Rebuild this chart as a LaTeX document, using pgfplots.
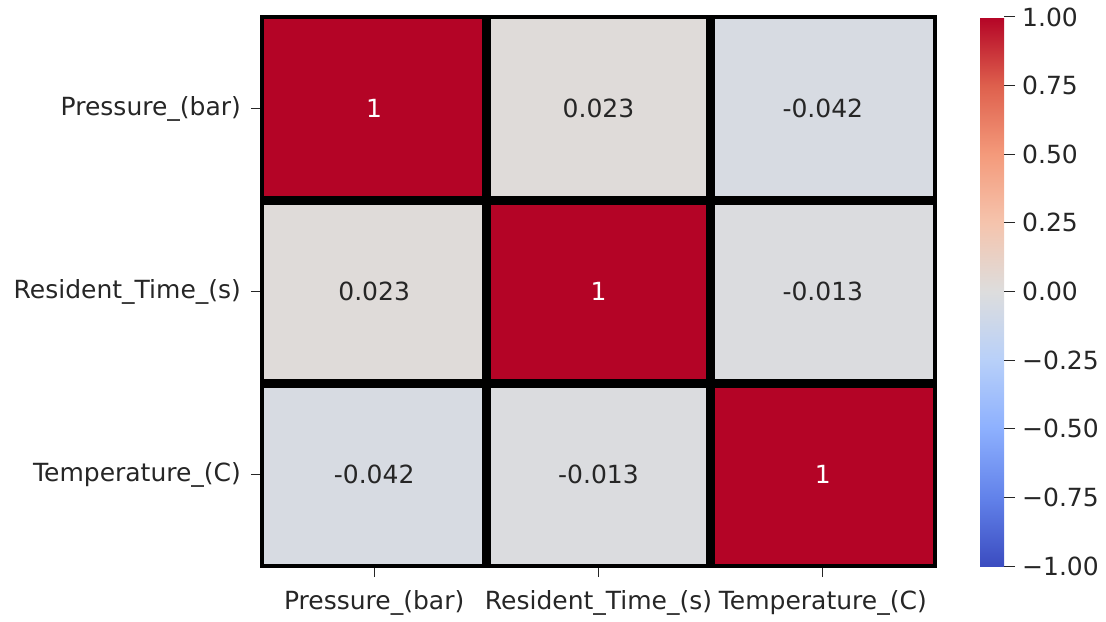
\documentclass[border=0pt]{standalone}
\usepackage{fontspec}
\setmainfont{DejaVu Sans}
\usepackage{pgfplots}
\pgfplotsset{compat=1.18}
\definecolor{txt}{RGB}{38,38,38}
\newcommand{\lblfont}{\fontsize{12.5}{14.5}\selectfont}
\begin{document}
\begin{tikzpicture}
\begin{axis}[
  name=main,
  scale only axis, width=336.5pt, height=274.5pt,
  xmin=-0.5, xmax=2.5, ymin=-0.5, ymax=2.5, y dir=reverse,
  xtick={0,1,2}, ytick={0,1,2},
  xticklabels={Pressure\_(bar), Resident\_Time\_(s), Temperature\_(C)},
  yticklabels={Pressure\_(bar), Resident\_Time\_(s), Temperature\_(C)},
  xtick pos=bottom, ytick pos=left, tick align=outside,
  major tick length=5.5pt,
  tick style={txt, line width=0.5pt},
  tick label style={font=\lblfont, text=txt},
  xticklabel style={yshift=-3pt},
  yticklabel style={xshift=-1.5pt},
  axis line style={black, line width=2.25pt},
  axis on top,
  extra x ticks={0.5,1.5}, extra x tick labels={},
  extra x tick style={grid=major, major tick length=0pt, major grid style={black, line width=4.5pt}},
  extra y ticks={0.5,1.5}, extra y tick labels={},
  extra y tick style={grid=major, major tick length=0pt, major grid style={black, line width=4.5pt}},
  colormap={coolwarm}{rgb255=(59,76,192) rgb255=(98,130,234) rgb255=(141,176,254) rgb255=(184,208,249) rgb255=(221,221,221) rgb255=(245,196,173) rgb255=(244,154,123) rgb255=(222,96,77) rgb255=(180,4,38)},
  point meta min=-1, point meta max=1,
  colorbar,
  colorbar style={
    width=12pt, at={(parent axis.north east)}, anchor=north west, xshift=14pt,
    axis line style={draw=none},
    ytick={-1,-0.75,-0.5,-0.25,0,0.25,0.5,0.75,1},
    yticklabels={−1.00,−0.75,−0.50,−0.25,0.00,0.25,0.50,0.75,1.00},
    ytick pos=right, yticklabel pos=right,
    major tick length=5.5pt, tick align=outside,
    tick style={txt, line width=0.5pt},
    yticklabel style={font=\lblfont, text=txt},
  },
]
\addplot[matrix plot*, mesh/cols=3, point meta=explicit] table[meta=c] {
x y c
0 0 1
1 0 0.023
2 0 -0.042
0 1 0.023
1 1 1
2 1 -0.013
0 2 -0.042
1 2 -0.013
2 2 1
};
\addplot[only marks, mark=none, nodes near coords, point meta=explicit symbolic,
  nodes near coords align=center, nodes near coords style={font=\lblfont, text=txt}]
  table[meta=t] {
x y t
1 0 0.023
2 0 -0.042
0 1 0.023
2 1 -0.013
0 2 -0.042
1 2 -0.013
};
\addplot[only marks, mark=none, nodes near coords, point meta=explicit symbolic,
  nodes near coords align=center, nodes near coords style={font=\lblfont, text=white}]
  table[meta=t] {
x y t
0 0 1
1 1 1
2 2 1
};
\end{axis}
\pgfresetboundingbox
\path ([shift={(-131pt,-27.5pt)}]main.south west) rectangle ([shift={(85.5pt,8.5pt)}]main.north east);
\end{tikzpicture}
\end{document}
